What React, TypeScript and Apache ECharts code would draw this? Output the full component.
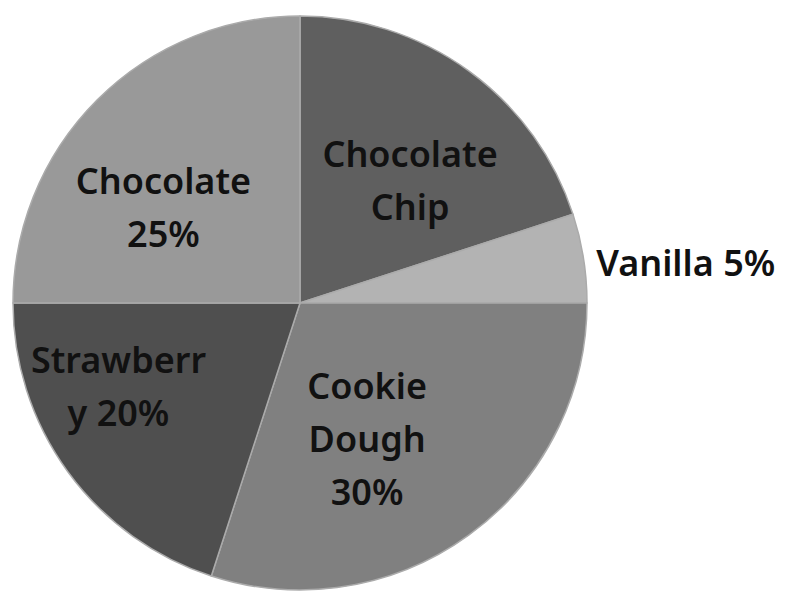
import React, { useEffect, useRef } from "react";
import * as echarts from "echarts";

const flavors = ["Chocolate Chip", "Vanilla", "Cookie Dough", "Strawberry", "Chocolate"];
const shares = [20, 5, 30, 20, 25];
const labelTexts = ["Chocolate\nChip", "Vanilla 5%", "Cookie\nDough\n30%", "Strawberr\ny 20%", "Chocolate\n25%"];

const sliceColors = ["#5f5f5f", "#b3b3b3", "#808080", "#4f4f4f", "#999999"];
const labelShift = [
  [24, -4],
  [241, -18],
  [-19, 17],
  [-63, -3],
  [-33, 8],
];

export default function App() {
  const ref = useRef<HTMLDivElement>(null);
  useEffect(() => {
    if (!ref.current) return;
    const chart = echarts.init(ref.current, undefined, { renderer: "svg" });
    chart.setOption({
      animation: false,
      backgroundColor: "#ffffff",
      series: [
        {
          type: "pie",
          center: [300, 303],
          radius: [0, 287],
          startAngle: 90,
          clockwise: true,
          avoidLabelOverlap: false,
          itemStyle: { borderColor: "#ababab", borderWidth: 1.5 },
          label: {
            show: true,
            position: "inside",
            fontFamily: "Noto Sans",
            fontSize: 36,
            fontWeight: 600,
            lineHeight: 53,
            color: "#111111",
            align: "center",
            formatter: (p: any) => labelTexts[p.dataIndex],
          },
          labelLine: { show: false },
          emphasis: { disabled: true },
          labelLayout: (p: any) => ({ dx: labelShift[p.dataIndex][0], dy: labelShift[p.dataIndex][1] }),
          data: flavors.map((name, i) => ({
            name,
            value: shares[i],
            itemStyle: { color: sliceColors[i] },
          })),
        },
      ],
    });
    return () => chart.dispose();
  }, []);
  return (
    <div
      ref={ref}
      style={{ position: "fixed", left: 0, top: 0, width: 785, height: 592, background: "#fff" }}
    />
  );
}
